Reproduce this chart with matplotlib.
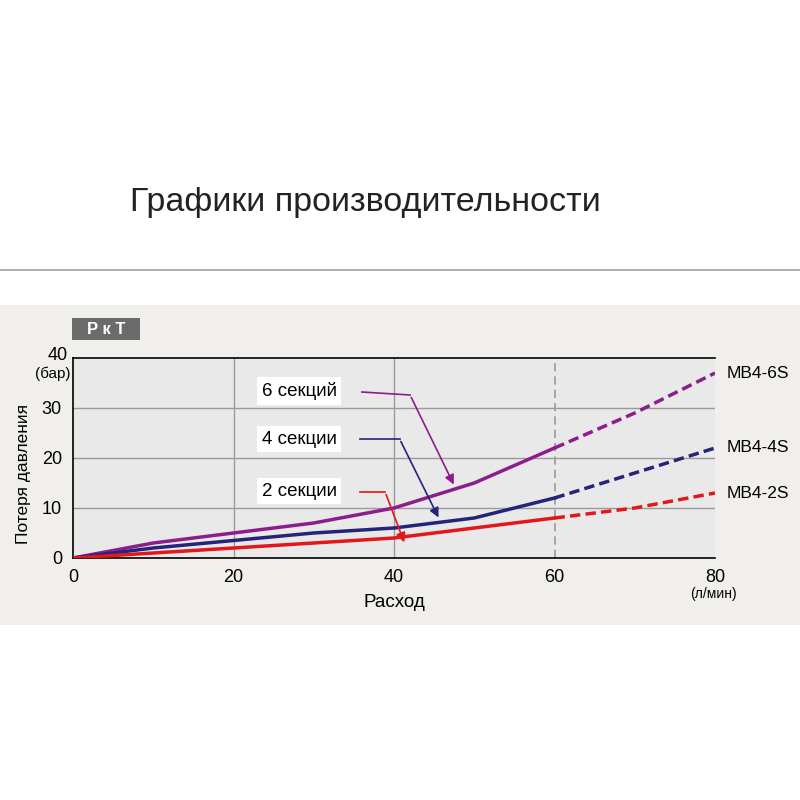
import matplotlib
matplotlib.use("Agg")
import matplotlib.pyplot as plt
from matplotlib.patches import Rectangle

plt.rcParams['font.family'] = ['Liberation Sans', 'DejaVu Sans']

x_solid = [0, 10, 20, 30, 40, 50, 60]
x_dash = [60, 70, 80]
s6_solid = [0, 3, 5, 7, 10, 15, 22]
s6_dash = [22, 29, 37]
s4_solid = [0, 2, 3.5, 5, 6, 8, 12]
s4_dash = [12, 17, 22]
s2_solid = [0, 1, 2, 3, 4, 6, 8]
s2_dash = [8, 10, 13]
series_names = ["MB4-6S", "MB4-4S", "MB4-2S"]
labels = ["6 секций", "4 секции", "2 секции"]
colors = ["#8c1d8c", "#25247a", "#e3161c"]

fig = plt.figure(figsize=(8, 8), dpi=100)
fig.patch.set_facecolor("white")
fig.add_artist(Rectangle((0, 175/800), 1, 320/800, transform=fig.transFigure, facecolor="#f1efeb", edgecolor="none", zorder=-5))
fig.add_artist(plt.Line2D([0, 1], [1-270/800]*2, transform=fig.transFigure, color="#a0a0a0", lw=1.2))
fig.text(130/800, 1-203/800, "Графики производительности", fontsize=24.5, color="#222222", va="center", ha="left")
fig.add_artist(Rectangle((72/800, 1-340/800), 68/800, 22/800, transform=fig.transFigure, facecolor="#6b6b6b", edgecolor="none"))
fig.text(106/800, 1-329/800, "P к T", fontsize=12, color="white", weight="bold", ha="center", va="center")

ax = fig.add_axes([73/800, 1-558/800, 642/800, 200/800])
ax.set_zorder(2)
ax.set_facecolor("#e9e9e9")
ax.set_xlim(0, 80); ax.set_ylim(0, 40)
ax.set_xticks([0, 20, 40, 60, 80]); ax.set_yticks([0, 10, 20, 30, 40])
ax.set_yticklabels(["0", "10", "20", "30", ""])
ax.tick_params(length=0, labelsize=13, pad=8)
for v in [20, 40]:
    ax.axvline(v, color="#9a9a9a", lw=1)
ax.axvline(60, color="#9a9a9a", lw=1.2, ls=(0, (5, 3)))
for v in [10, 20, 30]:
    ax.axhline(v, color="#9a9a9a", lw=1)
for sp in ax.spines.values():
    sp.set_color("black"); sp.set_linewidth(1.2)
ax.spines["right"].set_visible(False)

for s, d, c, n in zip([s6_solid, s4_solid, s2_solid], [s6_dash, s4_dash, s2_dash], colors, series_names):
    ax.plot(x_solid, s, color=c, lw=2.5, zorder=3)
    ax.plot(x_dash, d, color=c, lw=2.5, ls=(0, (3, 1.5)), zorder=3)
    ax.text(81.5, d[-1], n, fontsize=12.5, va="center", ha="left", clip_on=False)

ann = [((23.5, 33.4), (36.0, 33.2), (42.0, 32.6), (47.6, 14.2)),
       ((23.5, 23.8), (35.8, 23.8), (40.7, 23.8), (45.7, 7.6)),
       ((23.5, 13.4), (35.8, 13.2), (38.9, 13.2), (41.4, 2.6))]
for (tp, p0, p1, p2), lab, c in zip(ann, labels, colors):
    ax.text(tp[0], tp[1], lab, fontsize=13.5, va="center", ha="left",
            bbox=dict(facecolor="white", edgecolor="none", pad=3.5), zorder=4)
    ax.plot([p0[0], p1[0]], [p0[1], p1[1]], color=c, lw=1.2, zorder=4)
    ax.annotate("", xy=p2, xytext=p1, arrowprops=dict(arrowstyle="-|>", color=c, lw=1.2, mutation_scale=14), zorder=4)

ax.text(-0.7, 40.6, "40", fontsize=13, ha="right", va="center", clip_on=False)
ax.text(-0.3, 36.8, "(бар)", fontsize=11, ha="right", va="center", clip_on=False)
ax.text(79.8, -7.2, "(л/мин)", fontsize=10, ha="center", va="center", clip_on=False)
ax.set_xlabel("Расход", fontsize=13.5, labelpad=6)
ax.set_ylabel("Потеря давления", fontsize=12.5, labelpad=8, y=0.42)

fig.savefig("out.png", dpi=100)
